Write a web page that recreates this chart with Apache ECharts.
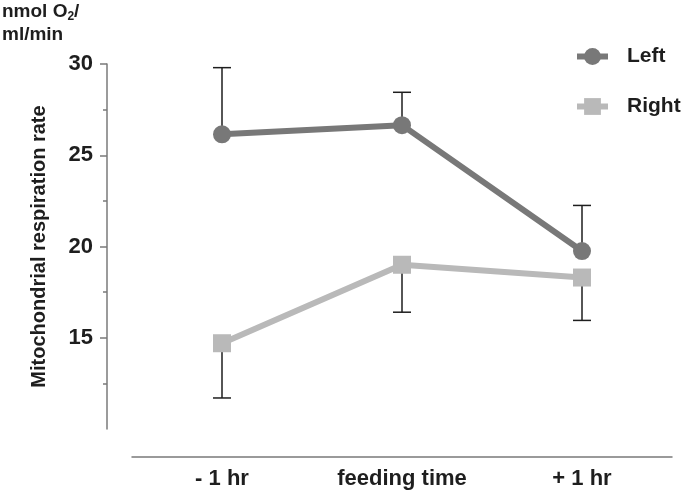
<!DOCTYPE html>
<html>
<head>
<meta charset="utf-8">
<script src="https://cdn.jsdelivr.net/npm/echarts@6/dist/echarts.min.js"></script>
<style>html,body{margin:0;padding:0;background:#fff;}#c{width:685px;height:494px;}</style>
</head>
<body>
<div id="c"></div>
<script>
const categories = ['- 1 hr', 'feeding time', '+ 1 hr'];
const leftMean = [26.15, 26.65, 19.75];
const leftUpper = [29.8, 28.45, 22.25];
const rightMean = [14.7, 19.0, 18.3];
const rightLower = [11.7, 16.4, 15.95];
const yTickValues = [15, 20, 25, 30];
const seriesNames = ['Left', 'Right'];

const FONT = '"Liberation Sans", Arial, Helvetica, sans-serif';
const LEFT_COLOR = '#787878';
const RIGHT_COLOR = '#b9b9b9';

function errorBar(params, api) {
  const c = api.coord([api.value(0), api.value(1)]);
  const e = api.coord([api.value(0), api.value(2)]);
  const st = { stroke: '#1e1e1e', lineWidth: 1.5 };
  return {
    type: 'group',
    children: [
      { type: 'line', shape: { x1: c[0], y1: c[1], x2: e[0], y2: e[1] }, style: st },
      { type: 'line', shape: { x1: e[0] - 9, y1: e[1], x2: e[0] + 9, y2: e[1] }, style: st }
    ]
  };
}

const chart = echarts.init(document.getElementById('c'), null, { renderer: 'canvas' });
chart.setOption({
  animation: false,
  backgroundColor: '#ffffff',
  textStyle: { fontFamily: FONT },
  graphic: [{
    type: 'text',
    left: 2,
    top: 1,
    style: {
      text: '{a|nmol O}{s|2}{a|/}\n{a|ml/min}',
      rich: {
        a: { fontSize: 19, fontWeight: 'bold', fontFamily: FONT, fill: '#1e1e1e', lineHeight: 23 },
        s: { fontSize: 12, fontWeight: 'bold', fontFamily: FONT, fill: '#1e1e1e', lineHeight: 23, padding: [10, 0, 0, 0] }
      }
    }
  }],
  legend: {
    data: seriesNames,
    orient: 'vertical',
    left: 569,
    top: 41,
    itemWidth: 31,
    itemHeight: 21,
    itemGap: 29,
    lineStyle: { width: 6 },
    textStyle: { fontSize: 21, fontWeight: 'bold', color: '#1e1e1e', fontFamily: FONT, padding: [0, 0, 0, 14] }
  },
  grid: { left: 132, right: 13, top: 64, bottom: 65 },
  xAxis: {
    type: 'category',
    data: categories,
    offset: 28,
    axisLine: { lineStyle: { color: '#7a7a7a', width: 1.5 } },
    axisTick: { alignWithLabel: true, length: 6, lineStyle: { color: '#7a7a7a', width: 1.5 } },
    axisLabel: { fontSize: 22, fontWeight: 'bold', color: '#1e1e1e', margin: 11, fontFamily: FONT }
  },
  yAxis: {
    type: 'value',
    min: 10,
    max: 30,
    interval: 5,
    offset: 25,
    axisLine: { show: true, lineStyle: { color: '#7a7a7a', width: 1.5 } },
    axisTick: { show: true, length: 7, customValues: yTickValues, lineStyle: { color: '#7a7a7a', width: 1.5 } },
    minorTick: { show: true, splitNumber: 2, length: 4, lineStyle: { color: '#7a7a7a', width: 1.5 } },
    axisLabel: { customValues: yTickValues, fontSize: 22, fontWeight: 'bold', color: '#1e1e1e', margin: 14, fontFamily: FONT },
    splitLine: { show: false },
    name: 'Mitochondrial respiration rate',
    nameLocation: 'middle',
    nameGap: 58,
    nameTextStyle: { fontSize: 20, fontWeight: 'bold', color: '#1e1e1e', fontFamily: FONT }
  },
  series: [
    {
      name: 'errLeft',
      type: 'custom',
      renderItem: errorBar,
      encode: { x: 0, y: [1, 2] },
      data: categories.map((c, i) => [i, leftMean[i], leftUpper[i]]),
      z: 1
    },
    {
      name: 'errRight',
      type: 'custom',
      renderItem: errorBar,
      encode: { x: 0, y: [1, 2] },
      data: categories.map((c, i) => [i, rightMean[i], rightLower[i]]),
      z: 1
    },
    {
      name: 'Left',
      type: 'line',
      data: leftMean,
      symbol: 'circle',
      symbolSize: 18,
      lineStyle: { color: LEFT_COLOR, width: 6 },
      itemStyle: { color: LEFT_COLOR },
      z: 3
    },
    {
      name: 'Right',
      type: 'line',
      data: rightMean,
      symbol: 'rect',
      symbolSize: 18,
      lineStyle: { color: RIGHT_COLOR, width: 6 },
      itemStyle: { color: RIGHT_COLOR },
      z: 2
    }
  ]
});
</script>
</body>
</html>
